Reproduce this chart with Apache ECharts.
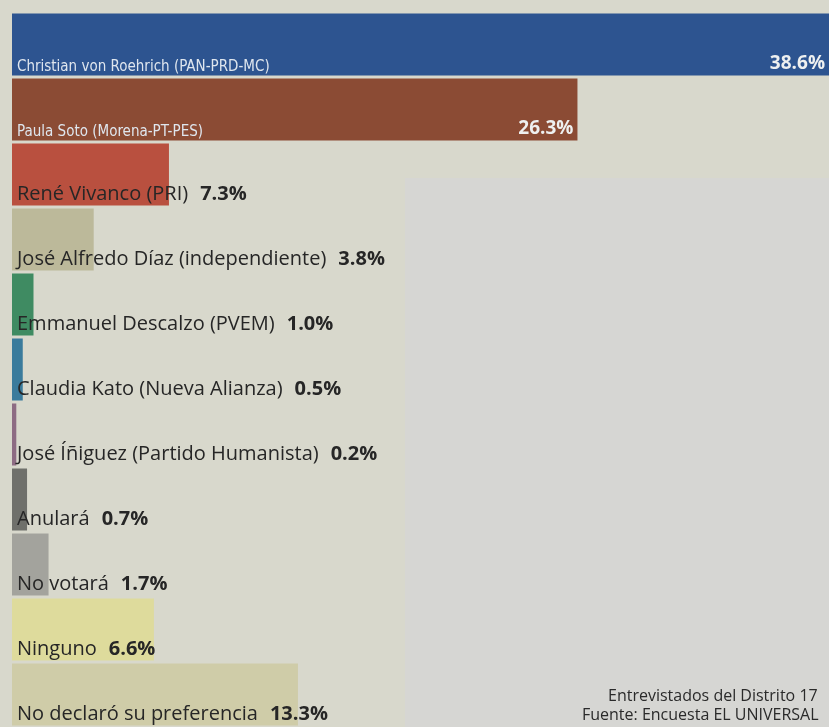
<!DOCTYPE html>
<html>
<head>
<meta charset="utf-8">
<script src="https://cdn.jsdelivr.net/npm/echarts@6/dist/echarts.min.js"></script>
<style>
  html, body { margin: 0; padding: 0; background: #d8d8cc; }
  #chart { width: 829px; height: 727px; }
</style>
</head>
<body>
<div id="chart"></div>
<script>
// encuesta distrito 17
const candidatos = [
  'Christian von Roehrich (PAN-PRD-MC)',
  'Paula Soto (Morena-PT-PES)',
  'René Vivanco (PRI)',
  'José Alfredo Díaz (independiente)',
  'Emmanuel Descalzo (PVEM)',
  'Claudia Kato (Nueva Alianza)',
  'José Íñiguez (Partido Humanista)',
  'Anulará',
  'No votará',
  'Ninguno',
  'No declaró su preferencia'
]
const porcentajes = [38.6, 26.3, 7.3, 3.8, 1.0, 0.5, 0.2, 0.7, 1.7, 6.6, 13.3]
const notas = ['Entrevistados del Distrito 17', 'Fuente: Encuesta EL UNIVERSAL']

// colores de cada barra
const colores = ['#2d5490', '#8b4b34', '#b9503f', '#bcb99a', '#3f8b62', '#3a7b9c',
  '#8d6b83', '#6f706b', '#a3a39d', '#dedb9c', '#cfcca8']

const chart = echarts.init(document.getElementById('chart'))

const grande = (v) => v >= 20

chart.setOption({
  backgroundColor: '#d8d8cc',
  animation: false,
  grid: { left: 12, right: 0, top: 12, bottom: 0 },
  xAxis: { type: 'value', min: 0, max: 38, show: false },
  yAxis: {
    type: 'category',
    inverse: true,
    data: candidatos,
    show: false
  },
  graphic: [
    {
      type: 'rect',
      z: -10,
      shape: { x: 405, y: 178, width: 424, height: 549 },
      style: { fill: '#d6d6d3' }
    },
    {
      type: 'text',
      x: 608, y: 688,
      style: { text: notas[0], fill: '#2a2a2a', font: '16px "Open Sans"' }
    },
    {
      type: 'text',
      x: 582, y: 707,
      style: { text: notas[1], fill: '#2a2a2a', font: '16px "Open Sans"' }
    }
  ],
  series: [
    {
      type: 'bar',
      barWidth: 62,
      data: porcentajes.map((v, i) => ({ value: v, itemStyle: { color: colores[i] } })),
      label: {
        show: true,
        position: 'insideBottomLeft',
        distance: 5,
        offset: [0, 4],
        formatter: (p) => grande(p.value)
          ? '{w|' + p.name + '}'
          : '{n|' + p.name + '}{b|' + p.value.toFixed(1) + '%}',
        rich: {
          w: { color: '#dfe6ee', fontSize: 15, fontFamily: '"DejaVu Sans Condensed", sans-serif' },
          n: { color: '#262626', fontSize: 20, fontFamily: '"Open Sans", sans-serif' },
          b: { color: '#262626', fontSize: 20, fontWeight: 'bold', fontFamily: '"Open Sans", sans-serif', padding: [0, 0, 0, 12] }
        }
      }
    },
    {
      // capa para el valor al final de las barras grandes
      type: 'bar',
      barWidth: 62,
      barGap: '-100%',
      silent: true,
      itemStyle: { color: 'transparent' },
      data: porcentajes,
      label: {
        show: true,
        position: 'insideBottomRight',
        distance: 4,
        offset: [0, 2],
        color: '#eef0f0',
        fontSize: 19,
        fontWeight: 'bold',
        fontFamily: '"Open Sans", sans-serif',
        formatter: (p) => grande(p.value) ? p.value.toFixed(1) + '%' : ''
      }
    }
  ]
})
</script>
</body>
</html>
